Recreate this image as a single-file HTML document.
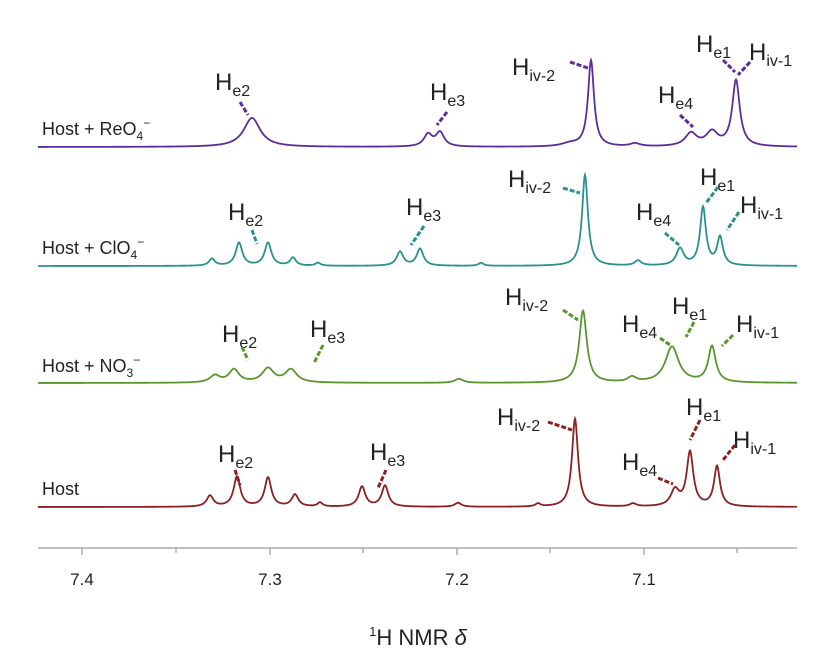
<!DOCTYPE html>
<html><head><meta charset="utf-8"><style>
html,body{margin:0;padding:0;background:#fff;}
svg{display:block;font-family:"Liberation Sans",sans-serif;}
</style></head><body>
<svg id="s" width="837" height="657" viewBox="0 0 837 657">
<line x1="38" y1="548" x2="797" y2="548" stroke="#999" stroke-width="1.2"/>
<g stroke="#999" stroke-width="1.2">
<line x1="82" y1="548" x2="82" y2="555"/><line x1="176" y1="548" x2="176" y2="553"/>
<line x1="270" y1="548" x2="270" y2="555"/><line x1="363" y1="548" x2="363" y2="553"/>
<line x1="457" y1="548" x2="457" y2="555"/><line x1="550" y1="548" x2="550" y2="553"/>
<line x1="644" y1="548" x2="644" y2="555"/><line x1="737" y1="548" x2="737" y2="553"/>
</g>
<g font-size="17" fill="#222" text-anchor="middle">
<text x="82" y="585">7.4</text><text x="270" y="585">7.3</text><text x="457" y="585">7.2</text><text x="644" y="585">7.1</text>
</g>
<text x="418" y="645" font-size="22" fill="#222" text-anchor="middle"><tspan font-size="13" dy="-9">1</tspan><tspan dy="9">H NMR </tspan><tspan font-style="italic">δ</tspan></text>
<g font-size="18" fill="#222">
<text x="42" y="135">Host + ReO<tspan font-size="12" dy="5">4</tspan><tspan font-size="12" dy="-13">−</tspan></text>
<text x="42" y="254">Host + ClO<tspan font-size="12" dy="5">4</tspan><tspan font-size="12" dy="-13">−</tspan></text>
<text x="42" y="372">Host + NO<tspan font-size="12" dy="5">3</tspan><tspan font-size="12" dy="-13">−</tspan></text>
<text x="42" y="495">Host</text>
</g>
<g id="g"></g>
</svg>
<script>
var g=document.getElementById('g');var NS='http://www.w3.org/2000/svg';
function spec(base,peaks,col){var d='';for(var x=38;x<=797;x+=0.5){var y=base;for(var i=0;i<peaks.length;i++){var p=peaks[i];var t=(x-p[0])/p[2];y-=p[1]/(1+t*t);}d+=(x==38?'M':'L')+x+' '+y.toFixed(2);}
var e=document.createElementNS(NS,'path');e.setAttribute('d',d);e.setAttribute('fill','none');e.setAttribute('stroke',col);e.setAttribute('stroke-width','1.8');g.appendChild(e);}
spec(147,[[252,29,10],[428,12,5],[440,14,5],[591,86,3.6],[635,3,6],[691,13,7],[712,14,7],[736,66,4.5],[570,3,10]],'#5b2d9a');
spec(266,[[212,7,3.5],[239,23,4],[268,23,4],[293,8,3.5],[318,3,3],[400,14,4],[420,17,4],[481,3,3],[585,91,3.5],[638,5,4],[680,17,4.5],[703,58,3.5],[720,28,3.5]],'#2a9190');
spec(383,[[215,7,6],[234,13,6],[268,14,7],[291,13,7],[459,4,5],[583,72,4.5],[632,5,5],[672,36,8],[712,36,4.5]],'#5a9530');
spec(507,[[210,11,4],[237,30,4],[268,29,4],[295,12,4],[320,4,3],[362,20,4],[385,21,4],[458,4,4],[538,3,3],[575,88,3.6],[633,3,4],[675,16,5],[690,54,4],[717,40,3.6]],'#8b2020');
var labs=[
['#5b2d9a',[[215,90,'e2',240,102,248,115],[430,100,'e3',447,112,437,125],[512,75,'iv-2',570,62,588,68],[658,103,'e4',680,115,693,127],[696,52,'e1',723,60,735,72],[749,60,'iv-1',750,62,738,75]]],
['#2a9190',[[228,220,'e2',252,230,257,244],[406,215,'e3',424,226,411,245],[508,187,'iv-2',563,188,580,193],[636,220,'e4',665,233,679,245],[700,185,'e1',718,187,706,203],[740,213,'iv-1',739,212,727,230]]],
['#5a9530',[[222,342,'e2',242,347,248,360],[310,337,'e3',323,345,314,363],[505,305,'iv-2',563,310,578,320],[622,332,'e4',660,338,670,345],[672,314,'e1',694,322,686,337],[736,332,'iv-1',733,335,722,346]]],
['#8b2020',[[218,462,'e2',235,470,240,485],[370,460,'e3',386,470,378,488],[497,425,'iv-2',548,422,572,430],[622,470,'e4',658,478,673,484],[686,415,'e1',700,420,690,440],[733,448,'iv-1',735,445,723,460]]]];
labs.forEach(function(s){s[1].forEach(function(l){var t=document.createElementNS(NS,'text');t.setAttribute('x',l[0]);t.setAttribute('y',l[1]);t.setAttribute('font-size','24');t.setAttribute('fill','#222');
t.innerHTML='H<tspan font-size="16" dy="6">'+l[2]+'</tspan>';g.appendChild(t);
var ln=document.createElementNS(NS,'line');ln.setAttribute('x1',l[3]);ln.setAttribute('y1',l[4]);ln.setAttribute('x2',l[5]);ln.setAttribute('y2',l[6]);ln.setAttribute('stroke',s[0]);ln.setAttribute('stroke-width','3');ln.setAttribute('stroke-dasharray','5 2');g.appendChild(ln);});});
</script>
</body></html>
